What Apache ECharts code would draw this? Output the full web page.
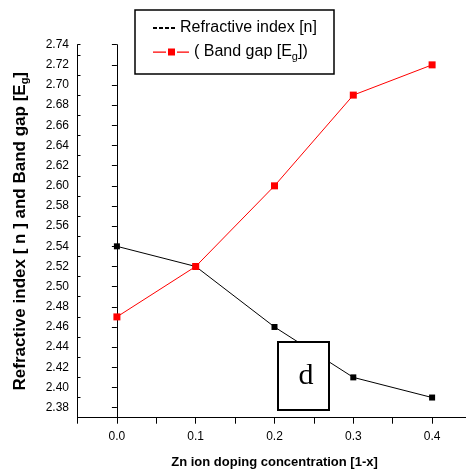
<!DOCTYPE html>
<html>
<head>
<meta charset="utf-8">
<script src="https://cdn.jsdelivr.net/npm/echarts@6/dist/echarts.min.js"></script>
<style>html,body{margin:0;padding:0;background:#fff}#c{width:466px;height:476px}</style>
</head>
<body>
<div id="c"></div>
<script>
var concentration = [0.0, 0.1, 0.2, 0.3, 0.4];
var refractiveIndex = [2.54, 2.52, 2.46, 2.41, 2.39];
var bandGap = [2.47, 2.52, 2.60, 2.69, 2.72];
var yLabelValues = [2.38, 2.40, 2.42, 2.44, 2.46, 2.48, 2.50, 2.52, 2.54, 2.56, 2.58, 2.60, 2.62, 2.64, 2.66, 2.68, 2.70, 2.72, 2.74];
var yMinorValues = [2.37, 2.39, 2.41, 2.43, 2.45, 2.47, 2.49, 2.51, 2.53, 2.55, 2.57, 2.59, 2.61, 2.63, 2.65, 2.67, 2.69, 2.71, 2.73, 2.74];
var xLabelValues = [0.0, 0.1, 0.2, 0.3, 0.4];
var xTickValues = [-0.05, 0.0, 0.05, 0.1, 0.15, 0.2, 0.25, 0.3, 0.35, 0.4];

var FONT = "'Liberation Sans', Arial, sans-serif";
var chart = echarts.init(document.getElementById('c'), null, {renderer: 'canvas'});

function pairs(xs, ys) { return xs.map(function (x, i) { return [x, ys[i]]; }); }

var option = {
  backgroundColor: '#fff',
  animation: false,
  grid: {left: 77.5, top: 44.7, width: 394, bottom: 58.3, containLabel: false, outerBoundsMode: 'none'},
  xAxis: {
    type: 'value', min: -0.05, max: 0.45,
    name: 'Zn ion doping concentration [1-x]',
    nameLocation: 'middle', nameGap: 38,
    nameTextStyle: {fontFamily: FONT, fontWeight: 'bold', fontSize: 13, color: '#000'},
    axisLine: {show: true, lineStyle: {color: '#000', width: 1}},
    axisTick: {show: true, inside: false, length: 6, customValues: xTickValues, lineStyle: {color: '#000'}},
    axisLabel: {show: true, margin: 13, customValues: xLabelValues, fontFamily: FONT, fontSize: 12, color: '#000',
      formatter: function (v) { return v.toFixed(1); }},
    splitLine: {show: false}
  },
  yAxis: [{
    type: 'value', min: 2.37, max: 2.74,
    name: 'Refractive index [ n ] and Band gap [E{sub|g}]',
    nameLocation: 'middle', nameGap: 47,
    nameTextStyle: {fontFamily: FONT, fontWeight: 'bold', fontSize: 17, color: '#000',
      rich: {sub: {fontFamily: FONT, fontWeight: 'bold', fontSize: 11, color: '#000', padding: [9, 0, 0, 0]}}},
    axisLine: {show: true, lineStyle: {color: '#000', width: 1}},
    axisTick: {show: true, inside: false, length: 5, customValues: yLabelValues, lineStyle: {color: '#000'}},
    axisLabel: {show: true, margin: 8.5, customValues: yLabelValues, fontFamily: FONT, fontSize: 12, color: '#000',
      formatter: function (v) { return v.toFixed(2); }},
    splitLine: {show: false}
  }, {
    type: 'value', min: 2.37, max: 2.74, position: 'left', offset: 0,
    axisLine: {show: true, onZero: false, lineStyle: {color: '#000', width: 1}},
    axisTick: {show: true, inside: true, length: 3, customValues: yMinorValues, lineStyle: {color: '#000'}},
    axisLabel: {show: false},
    splitLine: {show: false}
  }],
  legend: [{
    data: ['Refractive index [n]'],
    left: 153, top: 20, padding: 0,
    itemWidth: 22, itemHeight: 2, symbolKeepAspect: false,
    icon: 'path://M0,0h4v2h-4z M6,0h4v2h-4z M12,0h4v2h-4z M18,0h4v2h-4z',
    textStyle: {fontFamily: FONT, fontSize: 16, color: '#000'},
    selectedMode: false, z: 20
  }, {
    data: ['( Band gap [Eg])'],
    left: 153, top: 44, padding: 0,
    itemWidth: 36, itemHeight: 7, symbolKeepAspect: false,
    icon: 'path://M0,3h13v1.2h-13z M15,0h7v7h-7z M24,3h12v1.2h-12z',
    formatter: function () { return '( Band gap [E{sub|g}])'; },
    textStyle: {fontFamily: FONT, fontSize: 16, color: '#000',
      rich: {sub: {fontFamily: FONT, fontSize: 11, color: '#000', padding: [10, 0, 0, 0]}}},
    selectedMode: false, z: 20
  }],
  graphic: [{
    type: 'rect', z: 10,
    shape: {x: 135, y: 10, width: 199, height: 64},
    style: {fill: '#fff', stroke: '#000', lineWidth: 1.5}
  }, {
    type: 'rect', z: 10,
    shape: {x: 278, y: 342, width: 51, height: 68},
    style: {fill: '#fff', stroke: '#000', lineWidth: 2}
  }, {
    type: 'text', z: 11,
    x: 306, y: 376,
    style: {text: 'd', font: "30px 'Liberation Serif', 'DejaVu Serif', serif", fill: '#000', align: 'center', verticalAlign: 'middle'}
  }],
  series: [{
    name: 'Refractive index [n]',
    type: 'line', yAxisIndex: 0,
    data: pairs(concentration, refractiveIndex),
    symbol: 'rect', symbolSize: 6,
    lineStyle: {color: '#000', width: 1},
    itemStyle: {color: '#000'},
    z: 2
  }, {
    name: '( Band gap [Eg])',
    type: 'line', yAxisIndex: 1,
    data: pairs(concentration, bandGap),
    symbol: 'rect', symbolSize: 7,
    lineStyle: {color: '#ff0000', width: 1},
    itemStyle: {color: '#ff0000'},
    z: 3
  }]
};
chart.setOption(option);
</script>
</body>
</html>
